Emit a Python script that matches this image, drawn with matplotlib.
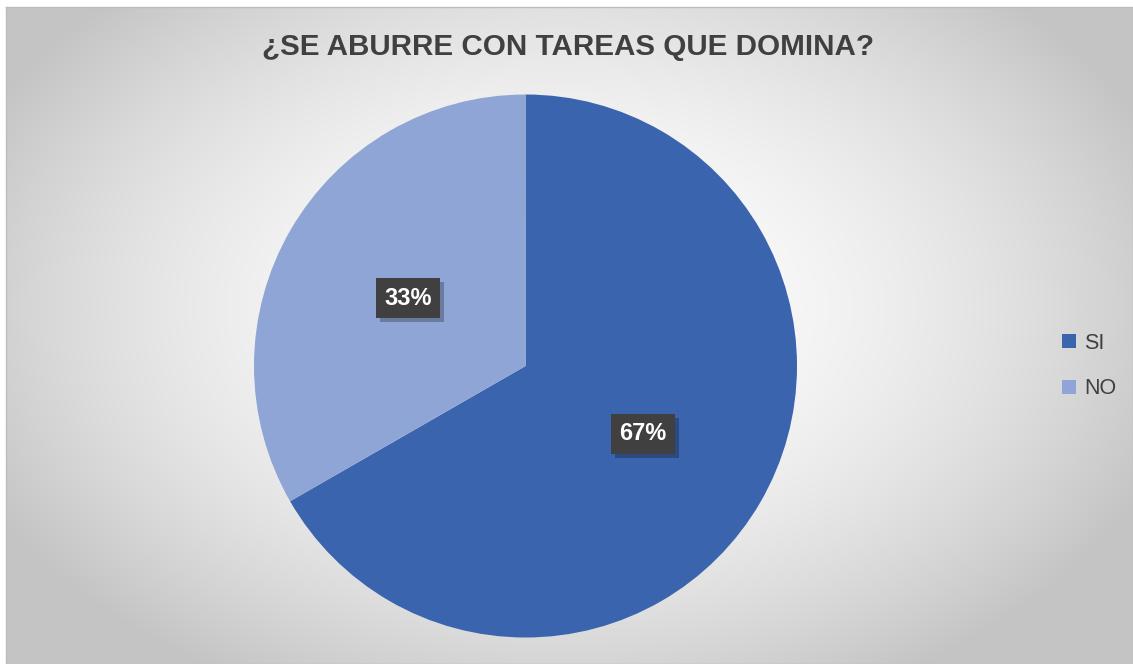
import matplotlib.pyplot as plt
import matplotlib.patheffects as pe
import numpy as np
from matplotlib.patches import Patch

labels = ['SI', 'NO']
values = [66.7, 33.3]
pct_text = ['67%', '33%']
colors = ['#3A64AD', '#8FA5D6']

fig = plt.figure(figsize=(11.33, 6.64), dpi=100)
fig.patch.set_facecolor('white')

# background with radial gradient
bg = fig.add_axes([6/1133, 0, 1 - 6/1133, 1 - 7/664])
yy, xx = np.mgrid[0:657, 0:1127]
cx, cy = 555, 300
d = np.sqrt(((xx - cx) / 660.0) ** 2 + ((yy - cy) / 440.0) ** 2)
shade = 1.0 - 0.24 * np.clip(d, 0, 1.2) ** 1.8
shade = np.clip(shade, 0.77, 1.0)
bg.imshow(np.dstack([shade] * 3), aspect='auto', extent=(0, 1, 0, 1))
bg.set_xticks([])
bg.set_yticks([])
for s in bg.spines.values():
    s.set_color('#bdbdbd')
    s.set_linewidth(1)

ax = fig.add_axes([254/1133, 26.5/664, 543/1133, 543/664])
wedges, _ = ax.pie(values, colors=colors, startangle=90, counterclock=False,
                   radius=1, wedgeprops=dict(linewidth=0))
ax.set_xlim(-1, 1)
ax.set_ylim(-1, 1)
ax.set_aspect('equal')
ax.axis('off')

for w, t in zip(wedges, pct_text):
    ang = np.deg2rad((w.theta1 + w.theta2) / 2)
    x, y = 0.5 * np.cos(ang), 0.5 * np.sin(ang)
    txt = ax.text(x, y, t, ha='center', va='center', fontsize=17, fontweight='bold',
                  family='Liberation Sans', color='white',
                  bbox=dict(boxstyle='square,pad=0.35', fc='#404040', ec='none'))
    txt.get_bbox_patch().set_path_effects(
        [pe.SimplePatchShadow(offset=(3, -3), shadow_rgbFace='black', alpha=0.25), pe.Normal()])

fig.text(568/1133, 1 - 47/664, '¿SE ABURRE CON TAREAS QUE DOMINA?', ha='center', va='center',
         fontsize=21.3, fontweight='bold', family='Liberation Sans', color='#404040')

handles = [Patch(facecolor=c, edgecolor='none') for c in colors]
fig.legend(handles, labels, loc='center left', bbox_to_anchor=(1043/1133, 1 - 366/664),
           frameon=False, handlelength=0.62, handleheight=0.62,
           handletextpad=0.4, labelspacing=1.15, labelcolor='#404040',
           prop={'family': 'Liberation Sans', 'size': 15.5})

fig.savefig('out.png', dpi=100)
